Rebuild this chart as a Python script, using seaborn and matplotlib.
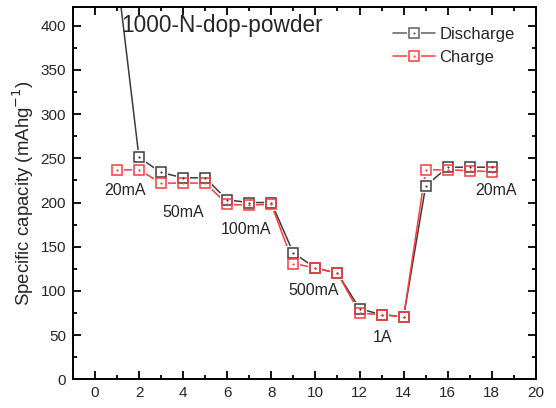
import numpy as np
import pandas as pd
import matplotlib
matplotlib.use("Agg")
import matplotlib.pyplot as plt
from matplotlib.lines import Line2D
from matplotlib.legend_handler import HandlerTuple
from matplotlib.ticker import MultipleLocator
import seaborn as sns

# Rate-capability test: cycle number vs specific capacity
cycles = [1, 2, 3, 4, 5, 6, 7, 8, 9, 10, 11, 12, 13, 14, 15, 16, 17, 18]
discharge = [460, 251, 234, 228, 228, 203, 200, 200, 143, 126, 120, 80, 73, 71, 219, 240, 240, 240]
charge = [237, 237, 222, 222, 222, 198, 197, 198, 131, 126, 120, 75, 73, 71, 237, 237, 236, 235]

rate_labels = ["20mA", "50mA", "100mA", "500mA", "1A", "20mA"]
rate_label_pos = [(1.35, 214), (4.0, 189), (6.85, 169), (9.9, 101), (13.05, 47), (18.2, 214)]

title_text = "1000-N-dop-powder"

df = pd.DataFrame({"cycle": cycles, "Discharge": discharge, "Charge": charge})

sns.set_style("ticks")
plt.rcParams["font.family"] = ["Liberation Sans", "DejaVu Sans"]

fig = plt.figure(figsize=(5.56, 4.08), dpi=100)
ax = fig.add_axes([0.131, 0.0703, 0.833, 0.912])

col_dis = "#3c3c3c"
col_chg = "#ff3b3b"
series = [("Discharge", col_dis), ("Charge", col_chg)]
msize = 7.5

# connecting lines
for name, col in series:
    sns.lineplot(data=df, x="cycle", y=name, ax=ax, color=col, lw=1.1,
                 legend=False, zorder=2)
# white halo behind each marker leaves a small gap between line and box
for name, col in series:
    ax.plot(df["cycle"], df[name], ls="none", marker="s", ms=msize + 3.2,
            mfc="white", mec="white", mew=0, zorder=3)
# open square markers with a centre dot
for name, col in series:
    ax.plot(df["cycle"], df[name], ls="none", marker="s", ms=msize,
            mfc="none", mec=col, mew=1.1, zorder=4)
    ax.plot(df["cycle"], df[name], ls="none", marker="o", ms=1.6,
            color=col, mew=0, zorder=5)

ax.set_xlim(-1, 20)
ax.set_ylim(0, 421)
ax.xaxis.set_major_locator(MultipleLocator(2))
ax.xaxis.set_minor_locator(MultipleLocator(1))
ax.yaxis.set_major_locator(MultipleLocator(50))
ax.yaxis.set_minor_locator(MultipleLocator(25))
ax.tick_params(which="both", direction="in", top=True, right=True,
               labeltop=False, labelright=False, width=1.3, color="black")
ax.tick_params(which="major", length=6, labelsize=11, pad=5)
ax.tick_params(which="minor", length=3)
for s in ax.spines.values():
    s.set_linewidth(1.4)
    s.set_color("black")

ax.set_xlabel("")
ax.set_ylabel("Specific capacity (mAhg$^{-1}$)", fontsize=13.4, labelpad=3)

ax.text(1.2, 400, title_text, fontsize=16.3, va="center", ha="left")

for lab, (x, y) in zip(rate_labels, rate_label_pos):
    ax.text(x, y, lab, fontsize=11.5, ha="center", va="center")


def legend_handle(col):
    return (Line2D([], [], color=col, lw=1.1),
            Line2D([], [], ls="none", marker="s", ms=msize + 3.2, mfc="white", mec="white", mew=0),
            Line2D([], [], ls="none", marker="s", ms=msize, mfc="none", mec=col, mew=1.1),
            Line2D([], [], ls="none", marker="o", ms=1.6, color=col, mew=0))


handles = [legend_handle("#606060"), legend_handle(col_chg)]
ax.legend(handles, ["Discharge", "Charge"],
          handler_map={tuple: HandlerTuple(ndivide=1, pad=0)},
          loc="upper right", bbox_to_anchor=(0.975, 0.975), frameon=False,
          fontsize=12, handlelength=2.5, handletextpad=0.25, labelspacing=0.5,
          borderaxespad=0.2)

fig.savefig("out.png", dpi=100)
